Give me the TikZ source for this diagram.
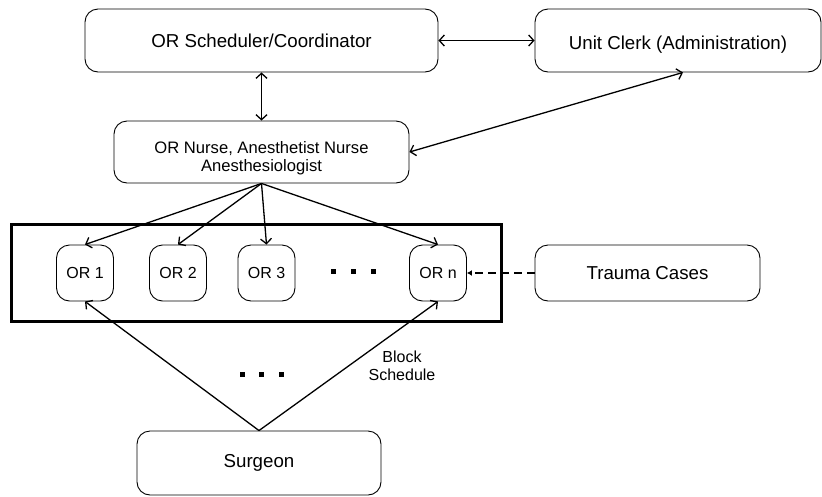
\documentclass[tikz,border=0pt]{standalone}
\usepackage{fontspec}
\setmainfont{Liberation Sans}
\usetikzlibrary{arrows.meta,calc}
\begin{document}
\begin{tikzpicture}[x=1pt,y=-1pt,
  box/.style={draw,line width=0.9pt,rounded corners=13pt,align=center,inner sep=0pt},
  bigbox/.style={box,font=\fontsize{18.7}{21}\selectfont},
  orbox/.style={box,minimum width=57pt,minimum height=56pt,font=\fontsize{16}{18}\selectfont},
  link/.style={line width=1.3pt,-{Straight Barb[length=5pt,width=11pt]}},
  biglink/.style={line width=1.3pt,{Straight Barb[length=5pt,width=11pt]}-{Straight Barb[length=5pt,width=11pt]}},
  dot/.style={fill=black,minimum size=5pt,inner sep=0pt}]
  \useasboundingbox (0,0) rectangle (822,496);

  % top row
  \node[bigbox,minimum width=353pt,minimum height=63pt] (sched) at (261.5,40.5) {OR Scheduler/Coordinator};
  \node[box,minimum width=286pt,minimum height=63pt,
    label={[font=\fontsize{18.7}{21}\selectfont,inner sep=0pt,yshift=-4pt]center:Unit Clerk (Administration)}]
    (clerk) at (678,40.5) {};

  % nursing staff
  \node[box,minimum width=295pt,minimum height=62pt,
    label={[font=\fontsize{16.6}{18.5}\selectfont,align=center,inner sep=0pt,yshift=-6pt]center:{OR Nurse, Anesthetist Nurse\\Anesthesiologist}}]
    (nurse) at (261.5,152) {};

  % operating rooms
  \draw[line width=3pt] (11,224) rectangle (501,321);
  \node[orbox] (or1) at (85,273) {OR 1};
  \node[orbox] (or2) at (178,273) {OR 2};
  \node[orbox] (or3) at (266.5,273) {OR 3};
  \node[orbox] (orn) at (438,273) {OR n};
  \node[dot] (d1) at (333,271) {};
  \node[dot] (d2) at (353,271) {};
  \node[dot] (d3) at (373,271) {};

  \node[bigbox,minimum width=225pt,minimum height=56pt] (trauma) at (647.5,273) {Trauma Cases};

  % surgeon
  \node[bigbox,minimum width=244pt,minimum height=64pt] (surgeon) at (259,463) {Surgeon};
  \node[dot] (e1) at (242,374) {};
  \node[dot] (e2) at (261,374) {};
  \node[dot] (e3) at (281,374) {};
  \node[align=center,inner sep=0pt,font=\fontsize{16}{18}\selectfont] (block) at (402,366) {Block\\Schedule};

  % connectors
  \draw[biglink] (sched.east) -- (clerk.west);
  \draw[biglink] (sched.south) -- (nurse.north);
  \coordinate (clerkfoot) at ($(clerk.south)+(5,0)$);
  \draw[biglink] (nurse.east) -- (clerkfoot);
  \draw[link] (nurse.south) -- (or1.north);
  \draw[link] (nurse.south) -- (or2.north);
  \draw[link] (nurse.south) -- (or3.north);
  \draw[link] (nurse.south) -- (orn.north);
  \draw[link] (surgeon.north) -- (or1.south);
  \draw[link] (surgeon.north) -- (orn.south);
  \draw[line width=1.3pt,dash pattern=on 8pt off 5pt,-{Latex[length=5pt,width=6pt]}] (trauma.west) -- (orn.east);
\end{tikzpicture}
\end{document}
